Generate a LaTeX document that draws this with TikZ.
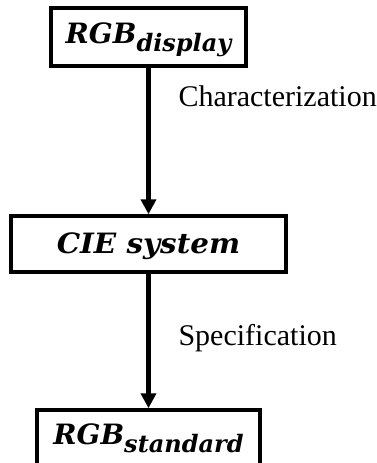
\documentclass[tikz,border=0pt]{standalone}
\usepackage{fontspec}
\setmainfont{Liberation Serif}
\newfontfamily\mathboxfont{DejaVu Serif}
\usetikzlibrary{arrows.meta}

% lowered subscript inside the boxes
\newcommand{\subtxt}[1]{\raisebox{-8pt}{\fontsize{24}{26}\selectfont #1}}

\begin{document}
\begin{tikzpicture}[x=1pt, y=-1pt,
    box/.style={draw, line width=3.5pt, minimum width=#1, minimum height=56pt, inner sep=0pt,
        text height=20pt, text depth=7pt, font=\mathboxfont\bfseries\itshape\fontsize{28}{30}\selectfont},
    arr/.style={-{Triangle[length=15pt, width=15pt]}, line width=5pt},
    lbl/.style={anchor=base west, font=\fontsize{30}{36}\selectfont}
]
\useasboundingbox (0,0) rectangle (377,463);

% RGB display
\node[box=195pt, minimum height=58pt] (display) at (148.5,37) {RGB\subtxt{display}};

% CIE
\node[box=275pt, text depth=2pt] (cie) at (148.5,244) {\scalebox{1.05}[1]{CIE system}};
\draw[arr] (display) -- (cie);
\node[lbl] (charact) at (175,106) {Characterization};

% RGB standard
\node[box=223pt] (standard) at (148.5,438) {RGB\subtxt{standard}};
\draw[arr] (cie) -- (standard);
\node[lbl] (spec) at (175,345) {Specification};

\end{tikzpicture}
\end{document}
